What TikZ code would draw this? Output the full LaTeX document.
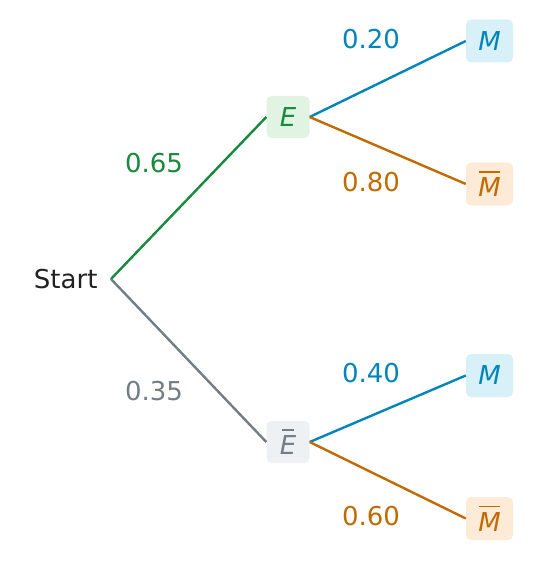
\documentclass[tikz,border=0pt]{standalone}
\usepackage{fontspec}
\setmainfont{DejaVu Sans}
\begin{document}
\begin{tikzpicture}[x=1pt,y=-1pt,
  every node/.style={font=\fontsize{26}{30}\selectfont},
  box/.style={rounded corners=5pt, minimum width=43pt, minimum height=42pt, inner sep=0pt, font=\fontsize{26}{30}\selectfont\itshape},
  mbox/.style={box, minimum width=47pt, minimum height=43pt},
  edge/.style={line width=2.4pt},
  prob/.style={font=\fontsize{26}{30}\selectfont}
]
\definecolor{cgreen}{HTML}{178A3D}
\definecolor{cblue}{HTML}{0084BA}
\definecolor{corange}{HTML}{C06A00}
\definecolor{cgray}{HTML}{737D85}
\definecolor{fgreen}{HTML}{E1F4E4}
\definecolor{fblue}{HTML}{D8F1F9}
\definecolor{forange}{HTML}{FDEBD8}
\definecolor{fgray}{HTML}{EEF1F3}
\definecolor{cdark}{HTML}{222222}
\useasboundingbox (0,0) rectangle (535,564);
\newcommand{\ovlbar}[3]{\leavevmode\rlap{\kern#1\raisebox{0.93em}{\rule{#2}{0.065em}}}#3}
\newcommand{\barM}{\ovlbar{0.02em}{0.82em}{M}}
\newcommand{\barE}{\ovlbar{0.08em}{0.45em}{E}}
\coordinate (S) at (111,279);
\node[text=cdark, anchor=east] (st) at (101,279) {Start};
\node[box, fill=fgreen, text=cgreen] (E) at (288,117) {E};
\node[box, fill=fgray, text=cgray] (Eb) at (288,442) {\barE};
\node[mbox, fill=fblue, text=cblue] (M1) at (489.5,41) {M};
\node[mbox, fill=forange, text=corange] (Mb1) at (489.5,184) {\barM};
\node[mbox, fill=fblue, text=cblue] (M2) at (489.5,375.5) {M};
\node[mbox, fill=forange, text=corange] (Mb2) at (489.5,518.5) {\barM};
\draw[edge, cgreen] (S) -- (E.west);
\draw[edge, cgray] (S) -- (Eb.west);
\draw[edge, cblue] (E.east) -- (M1.west);
\draw[edge, corange] (E.east) -- (Mb1.west);
\draw[edge, cblue] (Eb.east) -- (M2.west);
\draw[edge, corange] (Eb.east) -- (Mb2.west);
\node[prob, text=cgreen] (p1) at (154,163) {0.65};
\node[prob, text=cgray] (p2) at (154,391) {0.35};
\node[prob, text=cblue] (p3) at (371,39) {0.20};
\node[prob, text=corange] (p4) at (371,182) {0.80};
\node[prob, text=cblue] (p5) at (371,373) {0.40};
\node[prob, text=corange] (p6) at (371,516) {0.60};
\end{tikzpicture}
\end{document}
